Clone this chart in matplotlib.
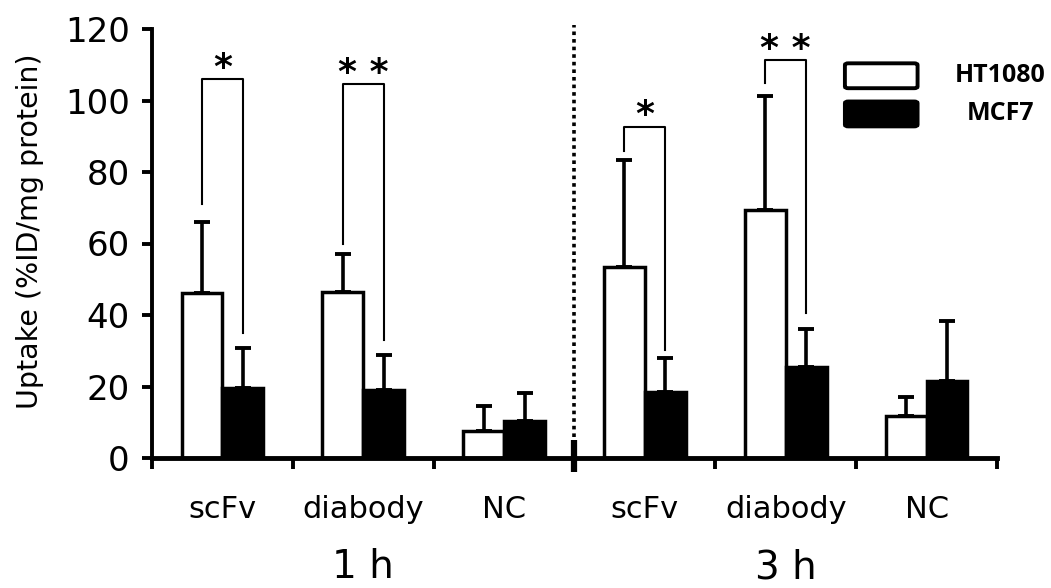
import numpy as np
import matplotlib
matplotlib.use("Agg")
import matplotlib.pyplot as plt
from matplotlib.patches import FancyBboxPatch

# data
groups = ["scFv", "diabody", "NC", "scFv", "diabody", "NC"]
times = ["1 h", "3 h"]
ht1080 = [46.2, 46.5, 7.6, 53.5, 69.4, 11.7]
ht1080_err = [19.9, 10.5, 6.9, 29.9, 31.9, 5.4]
mcf7 = [19.5, 19.0, 10.3, 18.6, 25.5, 21.5]
mcf7_err = [11.4, 9.8, 7.8, 9.3, 10.5, 16.8]

# significance brackets: group, left leg start, top, right leg start, label
sig_groups = [0, 1, 3, 4]
sig_left = [71, 60, 86, 104.8]
sig_top = [106, 104.6, 92.7, 111.3]
sig_right = [35, 33, 30.2, 40.5]
sig_text = ["*", "* *", "*", "* *"]

plt.rcParams["font.family"] = "DejaVu Sans"

fig = plt.figure(figsize=(10.51, 5.88), dpi=100)
ax = fig.add_axes([152 / 1051, 1 - 458 / 588, 845 / 1051, 429 / 588])

x = np.arange(len(groups))
w = 0.29
xw = x - w / 2
xb = x + w / 2

ax.bar(xw, ht1080, w, color="white", edgecolor="black", linewidth=2.5, zorder=2)
ax.bar(xb, mcf7, w, color="black", edgecolor="black", linewidth=2.5, zorder=2)
ax.errorbar(xw, ht1080, yerr=[np.zeros(6), ht1080_err], fmt="none", ecolor="black",
            elinewidth=2.6, capsize=6, capthick=2.8, zorder=1)
ax.errorbar(xb, mcf7, yerr=[np.zeros(6), mcf7_err], fmt="none", ecolor="black",
            elinewidth=2.6, capsize=6, capthick=2.8, zorder=1)

for g, l, t, r, s in zip(sig_groups, sig_left, sig_top, sig_right, sig_text):
    ax.plot([xw[g], xw[g], xb[g], xb[g]], [l, t, t, r], color="black", lw=1.5, zorder=3)
    ax.text(x[g], t + 3.2, s, ha="center", va="center", fontsize=26,
            fontweight="bold", zorder=3)

# separator between time points
ax.plot([2.5, 2.5], [6, 121], color="black", lw=2.6, linestyle=(0, (1, 1.1)),
        clip_on=False, zorder=3)
ax.plot([2.5, 2.5], [5, -3.9], color="black", lw=4.5, clip_on=False, zorder=4,
        solid_capstyle="butt")

ax.set_xlim(-0.5, 5.5)
ax.set_ylim(0, 120)
ax.set_yticks(np.arange(0, 121, 20))
ax.set_xticks(np.arange(-0.5, 5.6, 1))
ax.set_xticklabels([])
ax.set_xticks(x, minor=True)
ax.set_xticklabels(groups, minor=True)
ax.tick_params(axis="x", which="minor", length=0, pad=27, labelsize=22)
ax.tick_params(axis="x", which="major", length=8, width=2.8, direction="out")
ax.tick_params(axis="y", length=7, width=2.8, labelsize=24.5, pad=9)

for side in ["top", "right"]:
    ax.spines[side].set_visible(False)
ax.spines["left"].set_linewidth(2.8)
ax.spines["bottom"].set_linewidth(3.5)

ax.set_ylabel("Uptake (%ID/mg protein)", fontsize=20.5)
ax.yaxis.set_label_coords(-0.128, 0.529)

for i, t in enumerate(times):
    ax.text(1 + 3 * i, -0.28, t, transform=ax.get_xaxis_transform(), ha="center",
            va="baseline", fontsize=28)

# legend drawn by hand
leg_y = [0.862, 0.773]
leg_fc = ["white", "black"]
leg_lab = ["HT1080", "MCF7"]
for yy, fc, lab in zip(leg_y, leg_fc, leg_lab):
    ax.add_patch(FancyBboxPatch((0.820, yy), 0.086, 0.058,
                                boxstyle="round,pad=0,rounding_size=0.004",
                                transform=ax.transAxes, facecolor=fc,
                                edgecolor="black", linewidth=2.8, clip_on=False))
    ax.text(1.004, yy + 0.029, lab, transform=ax.transAxes, ha="center", va="center",
            fontsize=18, fontweight="bold", family="Open Sans")

fig.savefig("out.png", dpi=100)
